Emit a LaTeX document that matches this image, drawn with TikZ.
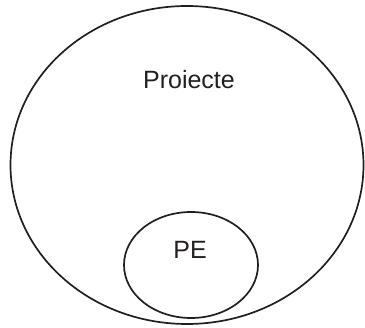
\documentclass[tikz,border=0pt]{standalone}
\usepackage{fontspec}
\setmainfont{Liberation Sans}
\definecolor{ink}{HTML}{231F20}
\begin{document}
\begin{tikzpicture}[x=1pt,y=-1pt,
  ring/.style={draw=ink,line width=1.7pt},
  lbl/.style={text=ink,font=\fontsize{25}{30}\selectfont,inner sep=0pt}]
\useasboundingbox (0,0) rectangle (365,328);
\draw[ring] (187,165) ellipse [x radius=176.5, y radius=159];
\draw[ring] (191,265) ellipse [x radius=67, y radius=53];
\node[lbl,anchor=base] (proiecte) at (189,89) {Proiecte};
\node[lbl,anchor=base] (pe) at (190,258.3) {PE};
\end{tikzpicture}
\end{document}
